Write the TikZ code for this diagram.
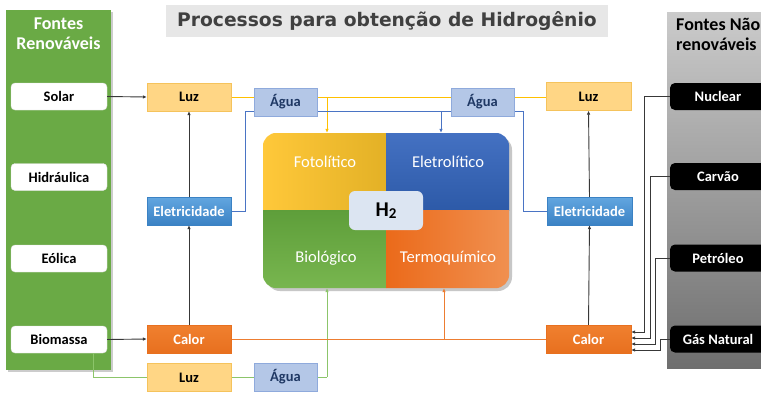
\documentclass[tikz,border=0pt]{standalone}
\usepackage{fontspec}
\setmainfont{Carlito}
\newfontfamily\titlefont{DejaVu Sans}
\usetikzlibrary{arrows.meta,calc}
\definecolor{greenpanel}{HTML}{6AAA45}
\definecolor{grayA}{HTML}{CBCBCB}
\definecolor{grayB}{HTML}{6E6E6E}
\definecolor{titlebg}{HTML}{E7E7E7}
\definecolor{titletext}{HTML}{404040}
\definecolor{luzfill}{HTML}{FFD685}
\definecolor{luzline}{HTML}{F5C35C}
\definecolor{aguafill}{HTML}{B4C7E7}
\definecolor{agualine}{HTML}{8FAADC}
\definecolor{aguatext}{HTML}{1F3864}
\definecolor{eletA}{HTML}{62A6E0}
\definecolor{eletB}{HTML}{3B82C4}
\definecolor{calA}{HTML}{F0802F}
\definecolor{calB}{HTML}{E8701F}
\definecolor{yelline}{HTML}{FFC000}
\definecolor{bluline}{HTML}{4A74C4}
\definecolor{grnline}{HTML}{8CC56A}
\definecolor{orgline}{HTML}{ED7D31}
\definecolor{qyA}{HTML}{FFC83A}
\definecolor{qyB}{HTML}{E3B126}
\definecolor{qbA}{HTML}{4471C2}
\definecolor{qbB}{HTML}{2D5AA8}
\definecolor{qgA}{HTML}{5E9E3A}
\definecolor{qgB}{HTML}{78B64F}
\definecolor{qoA}{HTML}{EB6A1A}
\definecolor{qoB}{HTML}{F09050}
\definecolor{htwo}{HTML}{DCE5F2}
\tikzset{
  lbl/.style={font=\fontsize{14.5}{15}\selectfont\bfseries, inner sep=0pt},
  srcbox/.style={lbl, draw=black!12, fill=white, rounded corners=4pt, minimum width=96pt, minimum height=27pt, text=black},
  nrbox/.style={lbl, fill=black, rounded corners=5pt, minimum width=96pt, minimum height=27pt, text=white},
  luzbox/.style={lbl, draw=luzline, fill=luzfill, minimum width=84pt, minimum height=28pt, text=black},
  aguabox/.style={lbl, draw=agualine, fill=aguafill, minimum width=63pt, minimum height=28pt, text=aguatext},
  eletbox/.style={lbl, draw=eletB, top color=eletA, bottom color=eletB, minimum width=84pt, minimum height=28pt, text=white},
  calorbox/.style={lbl, draw=calB, top color=calA, bottom color=calB, minimum width=84pt, minimum height=28pt, text=white},
  qlabel/.style={font=\fontsize{16.5}{17}\selectfont, text=white, inner sep=0pt},
  header/.style={font=\fontsize{18}{20}\selectfont\bfseries, inner sep=0pt},
  tip/.style={-{Latex[length=4pt,width=3.6pt]}},
  blk/.style={draw=black!78, line width=0.9pt},
  yel/.style={draw=yelline, line width=1pt},
  blu/.style={draw=bluline, line width=1pt},
  grn/.style={draw=grnline, line width=1pt},
  org/.style={draw=orgline, line width=1pt},
}
\begin{document}
\begin{tikzpicture}[x=1pt,y=-1pt]
\useasboundingbox (0,0) rectangle (761,392);
\clip (0,0) rectangle (761,392);
\fill[white] (0,0) rectangle (761,392);

% panels
\fill[black!20] (8,12) rectangle (113,372);
\node[fill=greenpanel, minimum width=105pt, minimum height=360pt, inner sep=0pt] (renov) at (58.5,190) {};
\node[header, text=white, align=center] (renovtxt) at (58.5,34) {Fontes\\Renováveis};
\node[top color=grayA, bottom color=grayB, minimum width=110pt, minimum height=356pt, inner sep=0pt] (nrenov) at (722,190) {};
\node[header, text=black, align=left, anchor=west] (nrenovtxt) at (676,34) {Fontes Não\\renováveis};

% title
\node[fill=titlebg, minimum width=442pt, minimum height=32pt, inner sep=0pt, text=titletext,
  font=\titlefont\bfseries\fontsize{18.7}{20}\selectfont] (title) at (387,21) {Processos para obtenção de Hidrogênio};

% sources
\node[srcbox] (solar) at (59,96.5) {Solar};
\node[srcbox] (hidr) at (59,177) {Hidráulica};
\node[srcbox] (eolica) at (59,258.5) {Eólica};
\node[srcbox] (biomassa) at (59,339.5) {Biomassa};
\node[nrbox] (nuclear) at (718,96.5) {Nuclear};
\node[nrbox] (carvao) at (718,176.5) {Carvão};
\node[nrbox] (petroleo) at (718,258) {Petróleo};
\node[nrbox] (gas) at (718,339) {Gás Natural};

% central block
\node[minimum width=246pt, minimum height=155pt, inner sep=0pt] (big) at (386,210.5) {};
\fill[black!22, rounded corners=14pt] (266,136) rectangle (512,291);
\begin{scope}
\clip[rounded corners=14pt] (big.north west) rectangle (big.south east);
\shade[left color=qyA, right color=qyB] (263,133) rectangle (386,210);
\shade[top color=qbA, bottom color=qbB] (386,133) rectangle (509,210);
\shade[top color=qgA, bottom color=qgB] (263,210) rectangle (386,288);
\shade[left color=qoA, right color=qoB] (386,210) rectangle (509,288);
\end{scope}
\node[qlabel] (foto) at (325,162) {Fotolítico};
\node[qlabel] (eletro) at (448,162) {Eletrolítico};
\node[qlabel] (bio) at (326,258) {Biológico};
\node[qlabel] (termo) at (448,258) {Termoquímico};
\node[fill=htwo, rounded corners=6pt, minimum width=74pt, minimum height=39pt, inner sep=0pt] (h2) at (386,210.5)
  {\fontsize{21}{21}\selectfont\bfseries H\raisebox{-2.5pt}{\fontsize{15}{15}\selectfont 2}};

% coordinates for connectors
\coordinate (ya) at (327,97);
\coordinate (b1) at (245,111);
\coordinate (b2) at (523,111);
\coordinate (bb) at (441,111);
\coordinate (g1) at (93,377);
\coordinate (g2) at (327,377);
\coordinate (oa) at (444,339);
\coordinate (k1) at (644,332);
\coordinate (k2) at (650,338);
\coordinate (k3) at (655,344);
\coordinate (k4) at (660,350);

% coloured process lines (behind boxes)
\draw[yel] (189,97) -- (588,97);
\draw[yel,tip] (ya) -- (ya |- big.north);
\draw[blu] (189,211) -| (b1) -- (b2) |- (589,211);
\draw[blu,tip] (bb) -- (bb |- big.north);
\draw[grn] (biomassa.south -| g1) -- (g1) -- (g2);
\draw[grn,tip] (g2) -- (g2 |- big.south);
\draw[org] (189,339) -- (588,339);
\draw[org,tip] (oa) -- (oa |- big.south);

% intermediate boxes
\node[luzbox] (luzL) at (189,97) {Luz};
\node[aguabox] (aguaL) at (285.5,102) {Água};
\node[aguabox] (aguaR) at (482.5,102) {Água};
\node[luzbox, minimum width=85pt] (luzR) at (588.5,96.5) {Luz};
\node[eletbox] (eletL) at (189,211) {Eletricidade};
\node[eletbox, minimum width=85pt] (eletR) at (589.5,211) {Eletricidade};
\node[calorbox] (calorL) at (189,339) {Calor};
\node[calorbox, minimum width=85pt] (calorR) at (588.5,339) {Calor};
\node[luzbox] (luzB) at (189,377.5) {Luz};
\node[aguabox] (aguaB) at (285.5,377) {Água};

% black arrows
\draw[blk,tip] (solar.east) -- (luzL.west);
\draw[blk,tip] (biomassa.east) -- (calorL.west);
\draw[blk,tip] (calorL.north) -- (eletL.south);
\draw[blk,tip] (eletL.north) -- (luzL.south);
\draw[blk,tip] (calorR.north) -- (eletR.south);
\draw[blk,tip] (eletR.north) -- (luzR.south);
\draw[blk,tip] (nuclear.west) -| (k1) -- (k1 -| calorR.east);
\draw[blk,tip] (carvao.west) -| (k2) -- (k2 -| calorR.east);
\draw[blk,tip] (petroleo.west) -| (k3) -- (k3 -| calorR.east);
\draw[blk,tip] (gas.west) -| (k4) -- (k4 -| calorR.east);
\end{tikzpicture}
\end{document}
